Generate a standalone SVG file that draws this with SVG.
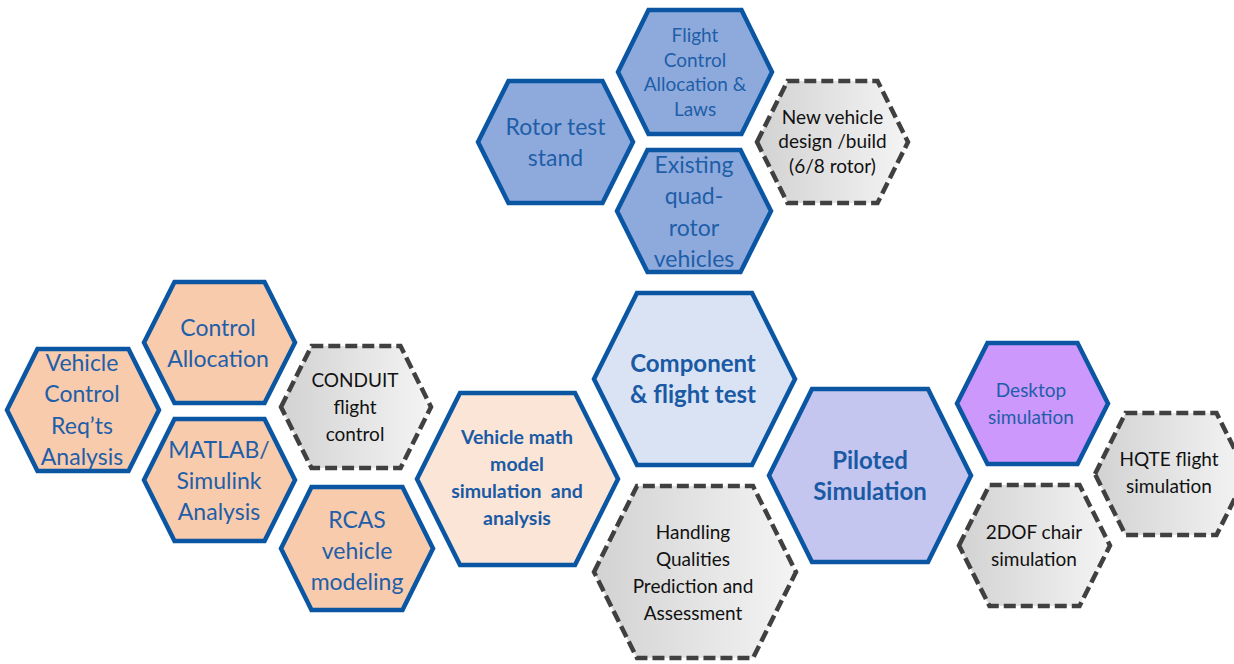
<svg xmlns="http://www.w3.org/2000/svg" width="1234" height="664" viewBox="0 0 1234 664">
  <defs>
    <linearGradient id="grayFill" x1="0" y1="0" x2="1" y2="0">
      <stop offset="0" stop-color="#d2d2d2"/>
      <stop offset="1" stop-color="#f4f4f4"/>
    </linearGradient>
    <style>
      .hex { stroke: #0a56a3; stroke-width: 4.5; stroke-linejoin: miter; }
      .dash { fill: url(#grayFill); stroke: #404040; stroke-width: 4.5; stroke-dasharray: 12 5; }
      .blue { fill: #8eaadc; }
      .orange { fill: #f8cbad; }
      .peach { fill: #fbe5d6; }
      .lightblue { fill: #dae3f3; }
      .lavender { fill: #c5c6ef; }
      .violet { fill: #cc98fc; }
      text { font-family: Lato, "Open Sans", "Liberation Sans", sans-serif; text-anchor: middle; }
      .t22 { font-size: 23px; fill: #1f5ea8; }
      .t18 { font-size: 19px; fill: #1f5ea8; }
      .b22 { font-size: 24px; font-weight: bold; fill: #1a5aa5; }
      .b18 { font-size: 19.5px; font-weight: bold; fill: #1a5aa5; }
      .k18 { font-size: 19px; fill: #111111; }
    </style>
  </defs>

  <rect width="1234" height="664" fill="#ffffff"/>

  <!-- top cluster: hardware -->
  <g id="flight-control-laws">
    <polygon class="hex blue" points="618,72 648.5,10 741.5,10 772,72 741.5,134 648.5,134"/>
    <text class="t18"><tspan x="695" y="42">Flight</tspan><tspan x="695" y="67">Control</tspan><tspan x="695" y="91">Allocation &amp;</tspan><tspan x="695" y="116">Laws</tspan></text>
  </g>
  <g id="rotor-test-stand">
    <polygon class="hex blue" points="478,142 508.5,81 602.5,81 633,142 602.5,203 508.5,203"/>
    <text class="t22"><tspan x="555.5" y="135">Rotor test</tspan><tspan x="555.5" y="166">stand</tspan></text>
  </g>
  <g id="new-vehicle">
    <polygon class="dash" points="757,142 787.5,81 877.5,81 908,142 877.5,203 787.5,203"/>
    <text class="k18"><tspan x="832.5" y="124">New vehicle</tspan><tspan x="832.5" y="148">design /build</tspan><tspan x="832.5" y="173">(6/8 rotor)</tspan></text>
  </g>
  <g id="existing-quadrotor">
    <polygon class="hex blue" points="617,211 647.5,150 740.5,150 771,211 740.5,272 647.5,272"/>
    <text class="t22"><tspan x="694" y="173">Existing</tspan><tspan x="694" y="204">quad-</tspan><tspan x="694" y="236">rotor</tspan><tspan x="694" y="267">vehicles</tspan></text>
  </g>

  <!-- left cluster: modeling and analysis -->
  <g id="control-allocation">
    <polygon class="hex orange" points="144,342.5 174.5,282 264.5,282 295,342.5 264.5,403 174.5,403"/>
    <text class="t22"><tspan x="218" y="336">Control</tspan><tspan x="218" y="367">Allocation</tspan></text>
  </g>
  <g id="vehicle-control-reqts">
    <polygon class="hex orange" points="7,410 37.5,349 128.5,349 159,410 128.5,471 37.5,471"/>
    <text class="t22"><tspan x="82" y="371">Vehicle</tspan><tspan x="82" y="402">Control</tspan><tspan x="82" y="434">Req’ts</tspan><tspan x="82" y="465">Analysis</tspan></text>
  </g>
  <g id="conduit">
    <polygon class="dash" points="281,407 311.5,346 400.5,346 431,407 400.5,468 311.5,468"/>
    <text class="k18"><tspan x="355" y="387">CONDUIT</tspan><tspan x="355" y="414">flight</tspan><tspan x="355" y="441">control</tspan></text>
  </g>
  <g id="matlab-simulink">
    <polygon class="hex orange" points="144,480 174.5,419 264.5,419 295,480 264.5,541 174.5,541"/>
    <text class="t22"><tspan x="219" y="458">MATLAB/</tspan><tspan x="219" y="489">Simulink</tspan><tspan x="219" y="520">Analysis</tspan></text>
  </g>
  <g id="rcas-modeling">
    <polygon class="hex orange" points="281,548.5 311.5,487 402.5,487 433,548.5 402.5,610 311.5,610"/>
    <text class="t22"><tspan x="357" y="528">RCAS</tspan><tspan x="357" y="559">vehicle</tspan><tspan x="357" y="590">modeling</tspan></text>
  </g>

  <!-- central cluster -->
  <g id="vehicle-math-model">
    <polygon class="hex peach" points="417,479 460,393 575,393 618,479 575,565 460,565"/>
    <text class="b18"><tspan x="517" y="444">Vehicle math</tspan><tspan x="517" y="471">model</tspan><tspan x="517" y="498">simulation&#160; and</tspan><tspan x="517" y="525">analysis</tspan></text>
  </g>
  <g id="component-flight-test">
    <polygon class="hex lightblue" points="594,379 637,293 752,293 795,379 752,465 637,465"/>
    <text class="b22"><tspan x="693" y="372">Component</tspan><tspan x="693" y="403">&amp; flight test</tspan></text>
  </g>
  <g id="handling-qualities">
    <polygon class="dash" points="594,572 637,486 753,486 796,572 753,658 637,658"/>
    <text class="k18"><tspan x="693" y="539">Handling</tspan><tspan x="693" y="566">Qualities</tspan><tspan x="693" y="593">Prediction and</tspan><tspan x="693" y="620">Assessment</tspan></text>
  </g>
  <g id="piloted-simulation">
    <polygon class="hex lavender" points="769,475.5 812,389 928,389 971,475.5 928,562 812,562"/>
    <text class="b22"><tspan x="870" y="469">Piloted</tspan><tspan x="870" y="500">Simulation</tspan></text>
  </g>

  <!-- right cluster: simulators -->
  <g id="desktop-simulation">
    <polygon class="hex violet" points="957,403.5 987.5,343 1077.5,343 1108,403.5 1077.5,464 987.5,464"/>
    <text class="t18"><tspan x="1031" y="397">Desktop</tspan><tspan x="1031" y="424">simulation</tspan></text>
  </g>
  <g id="hqte-simulation">
    <polygon class="dash" points="1095,474 1125.5,413 1216.5,413 1247,474 1216.5,535 1125.5,535"/>
    <text class="k18"><tspan x="1169" y="466">HQTE flight</tspan><tspan x="1169" y="493">simulation</tspan></text>
  </g>
  <g id="chair-simulation">
    <polygon class="dash" points="959,545.5 989.5,485 1079.5,485 1110,545.5 1079.5,606 989.5,606"/>
    <text class="k18"><tspan x="1034" y="539">2DOF chair</tspan><tspan x="1034" y="566">simulation</tspan></text>
  </g>
</svg>
